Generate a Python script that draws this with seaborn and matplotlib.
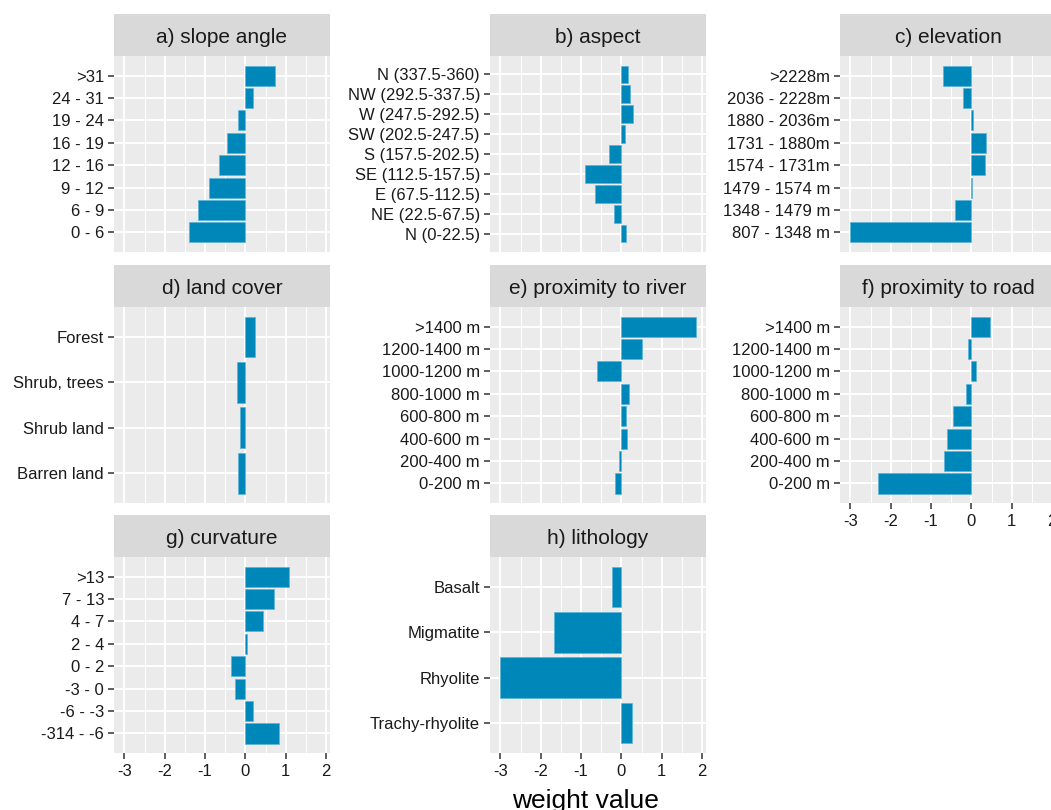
import pandas as pd
import matplotlib
matplotlib.use("Agg")
import matplotlib.pyplot as plt
import seaborn as sns
from matplotlib.ticker import MultipleLocator

# categories listed top to bottom as in the chart
slope_labels = [">31", "24 - 31", "19 - 24", "16 - 19", "12 - 16", "9 - 12", "6 - 9", "0 - 6"]
slope_values = [0.73, 0.18, -0.19, -0.45, -0.65, -0.91, -1.18, -1.39]

aspect_labels = ["N (337.5-360)", "NW (292.5-337.5)", "W (247.5-292.5)", "SW (202.5-247.5)",
                 "S (157.5-202.5)", "SE (112.5-157.5)", "E (67.5-112.5)", "NE (22.5-67.5)", "N (0-22.5)"]
aspect_values = [0.17, 0.22, 0.28, 0.10, -0.30, -0.91, -0.66, -0.18, 0.11]

elev_labels = [">2228m", "2036 - 2228m", "1880 - 2036m", "1731 - 1880m", "1574 - 1731m",
               "1479 - 1574 m", "1348 - 1479 m", "807 - 1348 m"]
elev_values = [-0.71, -0.21, 0.04, 0.36, 0.34, 0.01, -0.41, -3.01]

land_labels = ["Forest", "Shrub, trees", "Shrub land", "Barren land"]
land_values = [0.23, -0.22, -0.14, -0.19]

river_labels = [">1400 m", "1200-1400 m", "1000-1200 m", "800-1000 m", "600-800 m",
                "400-600 m", "200-400 m", "0-200 m"]
river_values = [1.86, 0.52, -0.60, 0.19, 0.11, 0.14, -0.07, -0.16]

road_labels = [">1400 m", "1200-1400 m", "1000-1200 m", "800-1000 m", "600-800 m",
               "400-600 m", "200-400 m", "0-200 m"]
road_values = [0.45, -0.08, 0.12, -0.13, -0.46, -0.61, -0.67, -2.32]

curv_labels = [">13", "7 - 13", "4 - 7", "2 - 4", "0 - 2", "-3 - 0", "-6 - -3", "-314 - -6"]
curv_values = [1.09, 0.72, 0.43, 0.05, -0.36, -0.25, 0.20, 0.84]

litho_labels = ["Basalt", "Migmatite", "Rhyolite", "Trachy-rhyolite"]
litho_values = [-0.23, -1.67, -3.01, 0.27]

panels = [
    ("a) slope angle", slope_labels, slope_values),
    ("b) aspect", aspect_labels, aspect_values),
    ("c) elevation", elev_labels, elev_values),
    ("d) land cover", land_labels, land_values),
    ("e) proximity to river", river_labels, river_values),
    ("f) proximity to road", road_labels, road_values),
    ("g) curvature", curv_labels, curv_values),
    ("h) lithology", litho_labels, litho_values),
]

rows = []
for name, labs, vals in panels:
    for l, v in zip(labs, vals):
        rows.append({"factor": name, "class": l, "weight": v})
df = pd.DataFrame(rows)

sns.set_style("white")
plt.rcParams["font.family"] = ["Liberation Sans", "DejaVu Sans"]

W, H = 1051, 810
fig = plt.figure(figsize=(W / 100, H / 100), dpi=100)

col_x = [114, 490, 840]
panel_w = 216
row_y = [14, 265, 515]
strip_h = 42
panel_h = 196
edge_gap = 9.5  # px between outer bars and panel border
xlim = (-3.26, 2.10)
bottom_panels = {"f) proximity to road", "g) curvature", "h) lithology"}

for i, (name, labs, vals) in enumerate(panels):
    r, c = divmod(i, 3)
    x0 = col_x[c]
    ys = row_y[r]
    # strip
    sax = fig.add_axes([x0 / W, 1 - (ys + strip_h) / H, panel_w / W, strip_h / H])
    sax.set_facecolor("#D9D9D9")
    sax.set_xticks([]); sax.set_yticks([])
    for s in sax.spines.values():
        s.set_visible(False)
    sax.text(0.5, 0.44, name, ha="center", va="center", fontsize=15, color="#1A1A1A",
             transform=sax.transAxes)
    # panel
    ax = fig.add_axes([x0 / W, 1 - (ys + strip_h + panel_h) / H, panel_w / W, panel_h / H])
    ax.set_facecolor("#EBEBEB")
    sub = df[df["factor"] == name]
    sns.barplot(data=sub, x="weight", y="class", order=labs, orient="y", ax=ax,
                color="#0087BA", saturation=1, width=0.9,
                edgecolor="#5AB4D8", linewidth=0.5, zorder=3)
    ax.set_xlim(*xlim)
    n = len(labs)
    u = (panel_h - 2 * edge_gap) / (n - 0.1)
    pad = 0.45 + edge_gap / u
    ax.set_ylim(n - 1 + pad, -pad)
    ax.xaxis.set_major_locator(MultipleLocator(1))
    ax.xaxis.set_minor_locator(MultipleLocator(0.5))
    ax.grid(which="major", color="white", linewidth=1.4, zorder=0)
    ax.grid(which="minor", axis="x", color="white", linewidth=0.7, zorder=0)
    ax.set_axisbelow(True)
    for s in ax.spines.values():
        s.set_visible(False)
    ax.set_xlabel("")
    ax.set_ylabel("")
    ax.tick_params(axis="y", which="major", length=4.2, width=1.1, color="#333333",
                   labelsize=12, labelcolor="#1A1A1A", pad=3, left=True)
    ax.tick_params(axis="x", which="minor", length=0)
    if name in bottom_panels:
        ax.set_xticks([-3, -2, -1, 0, 1, 2])
        ax.set_xticklabels(["-3", "-2", "-1", "0", "1", "2"])
        ax.tick_params(axis="x", which="major", length=4, width=1.1, color="#333333",
                       labelsize=12, labelcolor="#1A1A1A", pad=4, bottom=True)
    else:
        ax.tick_params(axis="x", which="major", length=0, labelbottom=False)

fig.text(585 / W, 1 - 801 / H, "weight value", ha="center", va="center", fontsize=19,
         color="black")

fig.savefig("out.png", dpi=100, facecolor="white")
